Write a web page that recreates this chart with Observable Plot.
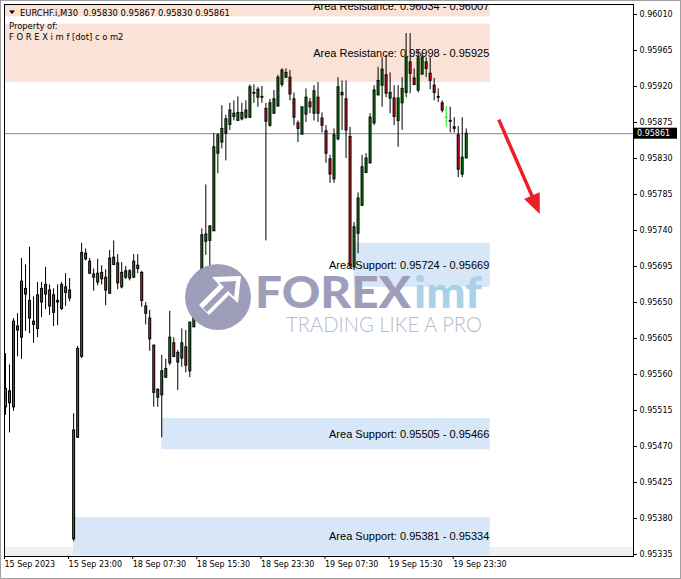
<!DOCTYPE html>
<html><head><meta charset="utf-8">
<script src="https://cdn.jsdelivr.net/npm/d3@7"></script>
<script src="https://cdn.jsdelivr.net/npm/@observablehq/plot@0.6"></script>
<style>html,body{margin:0;padding:0;background:#fff;overflow:hidden}</style>
</head><body><div id="chart"></div>
<script>
// ---- data ----
const headerText = "EURCHF.i,M30  0.95830 0.95867 0.95830 0.95861";
const propertyText = "Property of:";
const siteText = "F O R E X i m f [dot] c o m2";

const open = [
0.95519,0.95539,0.95519,0.95620,0.95606,0.95667,0.95652,0.95622,0.95617,0.95650,
0.95660,0.95665,0.95637,0.95650,0.95642,0.95669,0.95655,0.95354,0.95481,0.95582,
0.95704,0.95701,0.95681,0.95675,0.95679,0.95681,0.95661,0.95697,0.95699,0.95669,
0.95681,0.95680,0.95681,0.95692,0.95687,0.95645,0.95630,0.95596,0.95531,0.95534,
0.95556,0.95574,0.95599,0.95575,0.95580,0.95594,0.95564,0.95619,0.95645,0.95644,
0.95726,0.95727,0.95739,0.95836,0.95850,0.95861,0.95872,0.95882,0.95877,0.95879,
0.95881,0.95881,0.95911,0.95906,0.95906,0.95892,0.95871,0.95886,0.95895,0.95922,
0.95931,0.95931,0.95904,0.95874,0.95860,0.95885,0.95900,0.95886,0.95906,0.95880,
0.95864,0.95829,0.95804,0.95854,0.95912,0.95904,0.95857,0.95694,0.95736,0.95771,
0.95812,0.95824,0.95874,0.95909,0.95921,0.95934,0.95905,0.95905,0.95877,0.95899,
0.95912,0.95950,0.95930,0.95915,0.95935,0.95950,0.95936,0.95921,0.95907,0.95899,
0.95881,0.95877,0.95869,0.95859,0.95810,0.95830];
const high = [
0.95586,0.95572,0.95630,0.95636,0.95705,0.95697,0.95719,0.95657,0.95675,0.95675,
0.95694,0.95672,0.95667,0.95672,0.95675,0.95686,0.95680,0.95511,0.95595,0.95724,
0.95717,0.95705,0.95692,0.95704,0.95696,0.95691,0.95715,0.95727,0.95710,0.95700,
0.95695,0.95691,0.95710,0.95710,0.95689,0.95650,0.95640,0.95597,0.95542,0.95584,
0.95579,0.95639,0.95606,0.95590,0.95617,0.95615,0.95625,0.95652,0.95677,0.95742,
0.95797,0.95746,0.95861,0.95861,0.95896,0.95884,0.95899,0.95902,0.95907,0.95899,
0.95902,0.95922,0.95922,0.95919,0.95920,0.95899,0.95904,0.95915,0.95934,0.95942,
0.95942,0.95940,0.95912,0.95877,0.95894,0.95917,0.95905,0.95921,0.95925,0.95887,
0.95871,0.95834,0.95867,0.95931,0.95927,0.95927,0.95869,0.95750,0.95787,0.95834,
0.95836,0.95886,0.95921,0.95944,0.95956,0.95959,0.95937,0.95921,0.95921,0.95931,
0.95986,0.95986,0.95942,0.95965,0.95962,0.95956,0.95956,0.95930,0.95917,0.95902,
0.95895,0.95894,0.95881,0.95870,0.95881,0.95867];
const low = [
0.95509,0.95487,0.95514,0.95582,0.95579,0.95614,0.95611,0.95599,0.95606,0.95631,
0.95641,0.95634,0.95620,0.95621,0.95640,0.95645,0.95651,0.95351,0.95480,0.95580,
0.95702,0.95685,0.95664,0.95671,0.95672,0.95646,0.95660,0.95696,0.95666,0.95667,
0.95679,0.95677,0.95680,0.95686,0.95644,0.95622,0.95589,0.95519,0.95519,0.95481,
0.95555,0.95571,0.95581,0.95540,0.95569,0.95562,0.95556,0.95619,0.95637,0.95637,
0.95709,0.95684,0.95739,0.95811,0.95842,0.95827,0.95865,0.95877,0.95877,0.95877,
0.95879,0.95880,0.95899,0.95894,0.95899,0.95727,0.95869,0.95885,0.95894,0.95919,
0.95930,0.95902,0.95871,0.95850,0.95859,0.95875,0.95886,0.95877,0.95875,0.95862,
0.95824,0.95799,0.95799,0.95852,0.95865,0.95830,0.95692,0.95690,0.95711,0.95770,
0.95811,0.95823,0.95871,0.95908,0.95894,0.95906,0.95886,0.95871,0.95844,0.95865,
0.95906,0.95911,0.95921,0.95912,0.95934,0.95931,0.95916,0.95902,0.95900,0.95887,
0.95869,0.95862,0.95862,0.95806,0.95806,0.95830];
const close = [
0.95542,0.95524,0.95626,0.95615,0.95676,0.95660,0.95630,0.95626,0.95659,0.95667,
0.95672,0.95645,0.95659,0.95652,0.95672,0.95662,0.95665,0.95490,0.95592,0.95712,
0.95711,0.95686,0.95685,0.95686,0.95687,0.95665,0.95705,0.95706,0.95674,0.95687,
0.95689,0.95689,0.95701,0.95696,0.95652,0.95636,0.95604,0.95537,0.95541,0.95564,
0.95567,0.95606,0.95582,0.95587,0.95599,0.95571,0.95625,0.95651,0.95674,0.95734,
0.95735,0.95745,0.95844,0.95859,0.95867,0.95879,0.95890,0.95886,0.95887,0.95887,
0.95890,0.95919,0.95912,0.95916,0.95907,0.95876,0.95899,0.95904,0.95931,0.95940,
0.95937,0.95910,0.95881,0.95867,0.95894,0.95906,0.95894,0.95914,0.95886,0.95871,
0.95836,0.95810,0.95859,0.95919,0.95909,0.95865,0.95696,0.95744,0.95780,0.95819,
0.95830,0.95881,0.95915,0.95927,0.95941,0.95911,0.95912,0.95882,0.95905,0.95917,
0.95956,0.95936,0.95922,0.95955,0.95956,0.95942,0.95927,0.95912,0.95906,0.95890,
0.95881,0.95876,0.95867,0.95816,0.95831,0.95861];

const yTicks = [0.96010,0.95965,0.95920,0.95875,0.95830,0.95785,0.95740,0.95695,
                0.95650,0.95605,0.95560,0.95515,0.95470,0.95425,0.95380,0.95335];
const xTickIdx = [0,16,32,48,64,80,96,112];
const xTickLabels = ["15 Sep 2023","15 Sep 23:00","18 Sep 07:30","18 Sep 15:30",
                     "18 Sep 23:30","19 Sep 07:30","19 Sep 15:30","19 Sep 23:30"];

const areaLabels = ["Area Resistance: 0.96034 - 0.96007","Area Resistance: 0.95998 - 0.95925",
                    "Area Support: 0.95724 - 0.95669","Area Support: 0.95505 - 0.95466",
                    "Area Support: 0.95381 - 0.95334"];
const areaKind = ["resistance","resistance","support","support","support"];
const areaTop = [0.96034,0.95998,0.95724,0.95505,0.95381];
const areaBottom = [0.96007,0.95925,0.95669,0.95466,0.95334];
const areaStart = [-1,-1,87,39,17];
const areaEnd = [121,121,121,121,121];

const arrowBar = [123.25,133.5];
const arrowPrice = [0.95878,0.95760];

const watermarkMain = "FOREX", watermarkAccent = "imf", watermarkTag = "TRADING LIKE A PRO";

// ---- build ----
const lastClose = close[close.length - 1];
const candles = open.map((o, i) => ({
  i, o, h: high[i], l: low[i], c: close[i],
  top: Math.max(o, close[i]), bot: Math.min(o, close[i]),
  dir: close[i] > o ? 1 : close[i] < o ? -1 : 0
}));
const areas = areaLabels.map((label, k) => ({label, kind: areaKind[k], top: areaTop[k], bottom: areaBottom[k], x1: areaStart[k], x2: areaEnd[k], mid: (areaTop[k] + areaBottom[k]) / 2}));
const bodyColor = d => d.dir > 0 ? "#0b8a0b" : d.dir < 0 ? "#e3141e" : "#00ee00";
const lineColor = d => d.dir === 0 ? "#00ee00" : "#000000";

const chart = Plot.plot({
  width: 681, height: 579,
  marginLeft: 4, marginRight: 48, marginTop: 4, marginBottom: 23,
  x: {domain: [-0.25, 156.75]},
  y: {domain: [0.953325, 0.960225]},
  color: {type: "identity"},
  style: {fontFamily: "'DejaVu Sans', sans-serif", fontSize: "8px", background: "#fff", color: "#000", overflow: "visible"},
  marks: [
    Plot.rect(areas, {x1: "x1", x2: "x2", y1: "bottom", y2: "top", fill: d => d.kind === "support" ? "#d7e7f7" : "#fbe2d6", clip: true}),
    Plot.text(areas, {x: "x2", y: "mid", text: "label", textAnchor: "end", dx: -1, fontFamily: "'Liberation Sans', Arial, sans-serif", fontSize: 11, fill: "#000", clip: true}),
    Plot.ruleY([lastClose], {stroke: "#778899", strokeWidth: 1}),
    Plot.ruleX(candles, {x: "i", y1: "h", y2: "l", stroke: lineColor, strokeWidth: 1, ariaLabel: "wick"}),
    Plot.ruleX(candles, {x: "i", y1: "top", y2: "bot", stroke: lineColor, strokeWidth: 3, insetTop: -0.5, insetBottom: -0.5}),
    Plot.ruleX(candles.filter(d => d.top - d.bot > 0.00002), {x: "i", y1: "top", y2: "bot", stroke: bodyColor, strokeWidth: 1, insetTop: 0.5, insetBottom: 0.5}),
    Plot.frame({stroke: "#000"}),
    Plot.axisY({anchor: "right", ticks: yTicks, tickSize: 3, tickPadding: 3, tickFormat: d3.format(".5f"), label: null, fill: "#000"}),
    Plot.axisX({anchor: "bottom", ticks: xTickIdx, tickSize: 3, tickPadding: 2, tickFormat: d => xTickLabels[xTickIdx.indexOf(d)], textAnchor: "start", dx: -1, label: null, fill: "#000"})
  ]
});

document.getElementById("chart").appendChild(chart);
const svg = d3.select(chart);
const xs = chart.scale("x"), ys = chart.scale("y");

// bottom grey strip of the terminal
svg.insert("rect", ":first-child").attr("x", 4.5).attr("y", 547).attr("width", 629).attr("height", 9.5).attr("fill", "#f0f0f0");

// watermark (behind candles)
const wm = svg.insert("g", 'g[aria-label="wick"]').attr("text-anchor", "start");
const wmGrey = "#9e9ebb";
wm.append("circle").attr("cx", 218).attr("cy", 297).attr("r", 33).attr("fill", wmGrey);
wm.append("path").attr("d", "M241,276 L238,303 L229,295 L209,315 L199,305 L219,285 L212,277 Z").attr("fill", "#ffffff");
wm.append("path").attr("d", "M236,281 L234,297 L228,291 L207,312 L203,308 L224,287 L219,282 Z").attr("fill", wmGrey);
wm.append("text").attr("x", 255).attr("y", 308).attr("font-family", "Lato, 'Open Sans', sans-serif").attr("font-weight", 900)
  .attr("font-size", 43).attr("textLength", 156).attr("lengthAdjust", "spacingAndGlyphs").attr("fill", wmGrey).text(watermarkMain);
wm.append("text").attr("x", 414).attr("y", 308).attr("font-family", "Lato, 'Open Sans', sans-serif").attr("font-weight", 900)
  .attr("font-size", 43).attr("textLength", 68).attr("lengthAdjust", "spacingAndGlyphs").attr("fill", "#a9d2e9").text(watermarkAccent);
wm.append("text").attr("x", 286).attr("y", 332).attr("font-family", "Lato, 'Open Sans', sans-serif").attr("font-weight", 300)
  .attr("font-size", 22).attr("textLength", 196).attr("lengthAdjust", "spacingAndGlyphs").attr("fill", "#b9b9c9").text(watermarkTag);

// red arrow annotation
const ax0 = xs.apply(arrowBar[0]), ay0 = ys.apply(arrowPrice[0]);
const ax1 = xs.apply(arrowBar[1]), ay1 = ys.apply(arrowPrice[1]);
const L = Math.hypot(ax1 - ax0, ay1 - ay0), ux = (ax1 - ax0) / L, uy = (ay1 - ay0) / L;
const hl = 20, hw = 8.5, bx = ax1 - ux * hl, by = ay1 - uy * hl;
svg.append("line").attr("x1", ax0).attr("y1", ay0).attr("x2", bx + ux * 3).attr("y2", by + uy * 3)
  .attr("stroke", "#e8202a").attr("stroke-width", 3.5);
svg.append("path").attr("d", `M${ax1},${ay1}L${bx - uy * hw},${by + ux * hw}L${bx + uy * hw},${by - ux * hw}Z`).attr("fill", "#e8202a");

// current price label
const py = ys.apply(lastClose);
const overlay = svg.append("g").attr("text-anchor", "start");
overlay.append("rect").attr("x", 634).attr("y", py - 5.5).attr("width", 43).attr("height", 11).attr("fill", "#000");
overlay.append("text").attr("x", 637).attr("y", py + 3).attr("fill", "#fff").attr("font-size", 8).text(d3.format(".5f")(lastClose));

// header texts
overlay.append("path").attr("d", "M9,10.5L15,10.5L12,14Z").attr("fill", "#000");
overlay.append("text").attr("x", 20).attr("y", 15.5).attr("font-size", 8.4).attr("fill", "#000").style("white-space", "pre").text(headerText);
overlay.append("text").attr("x", 9).attr("y", 28.5).attr("font-size", 8.4).attr("fill", "#000").text(propertyText);
overlay.append("text").attr("x", 9).attr("y", 40).attr("font-size", 8.4).attr("fill", "#000").style("white-space", "pre").text(siteText);

// outer window border
svg.append("rect").attr("x", 0.5).attr("y", 0.5).attr("width", 680).attr("height", 578).attr("fill", "none").attr("stroke", "#a0a0a0");
</script>
</body></html>
